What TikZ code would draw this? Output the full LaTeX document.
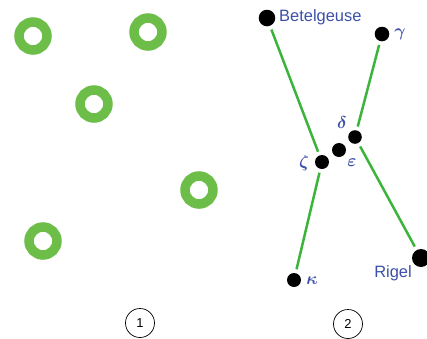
\documentclass[tikz,border=0pt]{standalone}
\usepackage{fontspec}
\setsansfont{Liberation Sans}
\definecolor{ringgreen}{RGB}{108,190,72}
\definecolor{linegreen}{RGB}{60,180,60}
\definecolor{labelblue}{RGB}{60,80,168}
\tikzset{
  ring/.style={draw=ringgreen, line width=9.5bp},
  star/.style={circle, fill=black, inner sep=0pt, minimum size=#1, outer sep=4bp},
  conline/.style={draw=linegreen, line width=2.5bp},
  namelabel/.style={text=labelblue, font=\sffamily\fontsize{16.5}{18}\selectfont, inner sep=0pt},
  greeklabel/.style={text=labelblue, font=\fontsize{19}{22}\selectfont\boldmath, inner sep=0pt},
  numcircle/.style={circle, draw=black, line width=0.7bp, minimum size=29bp, inner sep=0pt, font=\sffamily\fontsize{13}{15}\selectfont}
}
\begin{document}
\begin{tikzpicture}[x=1bp, y=-1bp]
\useasboundingbox (0,0) rectangle (427,339);
% panel 1: rings
\draw[ring] (33,36) circle (14);
\draw[ring] (148,32) circle (14);
\draw[ring] (94,104) circle (14);
\draw[ring] (199,190) circle (14);
\draw[ring] (43,241) circle (14);
\node[numcircle] (n1) at (140,323) {1};
% panel 2: stars
\node[star=16.6bp] (bet) at (267,18) {};
\node[star=14.6bp] (gam) at (382,34) {};
\node[star=13.6bp] (del) at (355,137) {};
\node[star=14bp] (eps) at (339,150) {};
\node[star=14bp] (zet) at (322,162) {};
\node[star=14bp] (kap) at (294,280) {};
\node[star=18bp] (rig) at (421,258) {};
\draw[conline] (bet) -- (zet);
\draw[conline] (gam) -- (del);
\draw[conline] (del) -- (rig);
\draw[conline] (zet) -- (kap);
\node[namelabel, anchor=west] (lbet) at (279,17) {Betelgeuse};
\node[namelabel] (lrig) at (393,273) {Rigel};
\node[greeklabel] (lgam) at (400,34) {$\gamma$};
\node[greeklabel] (ldel) at (342,123) {$\delta$};
\node[greeklabel] (leps) at (352,163) {$\varepsilon$};
\node[greeklabel] (lzet) at (304,163) {$\zeta$};
\node[greeklabel] (lkap) at (312,281) {$\kappa$};
\node[numcircle] (n2) at (348,324) {2};
\end{tikzpicture}
\end{document}
